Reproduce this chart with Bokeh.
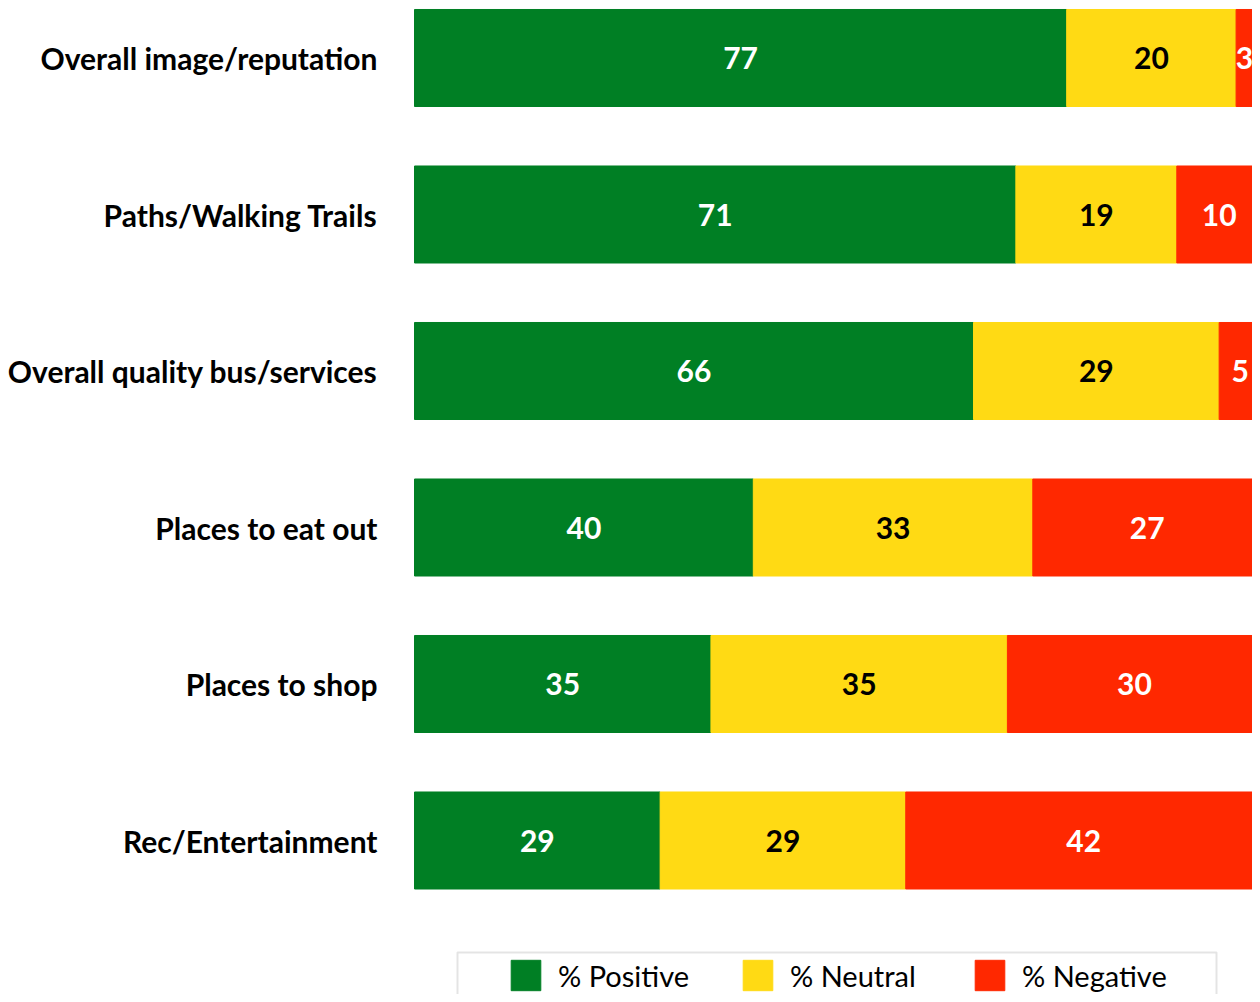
from bokeh.plotting import figure
from bokeh.models import Range1d, ColumnDataSource, Legend, LegendItem, BoxAnnotation
from bokeh.core.properties import value
from bokeh.embed import file_html
from bokeh.resources import INLINE

categories = ["Overall image/reputation", "Paths/Walking Trails", "Overall quality bus/services",
              "Places to eat out", "Places to shop", "Rec/Entertainment"]
positive = [77, 71, 66, 40, 35, 29]
neutral = [20, 19, 29, 33, 35, 29]
negative = [3, 10, 5, 27, 30, 42]
series_names = ["% Positive", "% Neutral", "% Negative"]
colors = ["#007F24", "#FFDA14", "#FF2800"]
label_colors = ["white", "black", "white"]

FONT = "Lato"
PX_PER_UNIT = 8.47
X0 = 414          # pixel where value 0 sits
Y0, STEP = 57.5, 156.5
W, H = 1252, 994
XMAX = (W - X0) / PX_PER_UNIT
LABEL_LIMIT = XMAX - 8 / PX_PER_UNIT   # keep value labels inside the visible area

p = figure(width=W, height=H, output_backend="svg", toolbar_location=None,
           x_range=Range1d(-X0 / PX_PER_UNIT, XMAX),
           y_range=Range1d((H - Y0) / STEP, (0 - Y0) / STEP),
           min_border=0, min_border_left=0, min_border_right=0,
           min_border_top=0, min_border_bottom=0)
p.outline_line_color = None
p.xaxis.visible = False
p.yaxis.visible = False
p.grid.visible = False

ys = list(range(len(categories)))
series = [positive, neutral, negative]
left = [0] * len(categories)
renderers = []
for vals, col, lc in zip(series, colors, label_colors):
    right = [l + v for l, v in zip(left, vals)]
    src = ColumnDataSource(dict(y=ys, left=left, right=right,
                                mid=[min((l + r) / 2, LABEL_LIMIT) for l, r in zip(left, right)],
                                lab=[str(v) for v in vals]))
    r = p.hbar(y="y", left="left", right="right", height=0.62, color=col, source=src)
    renderers.append(r)
    p.text(x="mid", y="y", text="lab", source=src, text_align="center", text_baseline="middle",
           text_color=lc, text_font=value(FONT), text_font_style="bold", text_font_size="30px")
    left = right

cat_src = ColumnDataSource(dict(y=ys, x=[0] * len(categories), t=categories))
p.text(x="x", y="y", text="t", source=cat_src, x_offset=-37, text_align="right",
       text_baseline="middle", text_color="black", text_font=value(FONT),
       text_font_style="bold", text_font_size="30px")

legend = Legend(items=[LegendItem(label=n, renderers=[r]) for n, r in zip(series_names, renderers)],
                orientation="horizontal", location=(507, 0), padding=0, spacing=1,
                glyph_width=37, glyph_height=38, label_standoff=14, label_width=180,
                label_text_font=FONT, label_text_font_size="29px", label_text_color="black",
                border_line_alpha=0, background_fill_alpha=0, margin=0)
p.add_layout(legend, "center")

box = BoxAnnotation(left=(457 - X0) / PX_PER_UNIT, right=(1216 - X0) / PX_PER_UNIT,
                    top=(952 - Y0) / STEP, bottom=6.3,
                    fill_alpha=0, line_color="#A6A6A6", line_width=2)
p.add_layout(box)

open("out.html", "w").write(file_html(p, INLINE))
